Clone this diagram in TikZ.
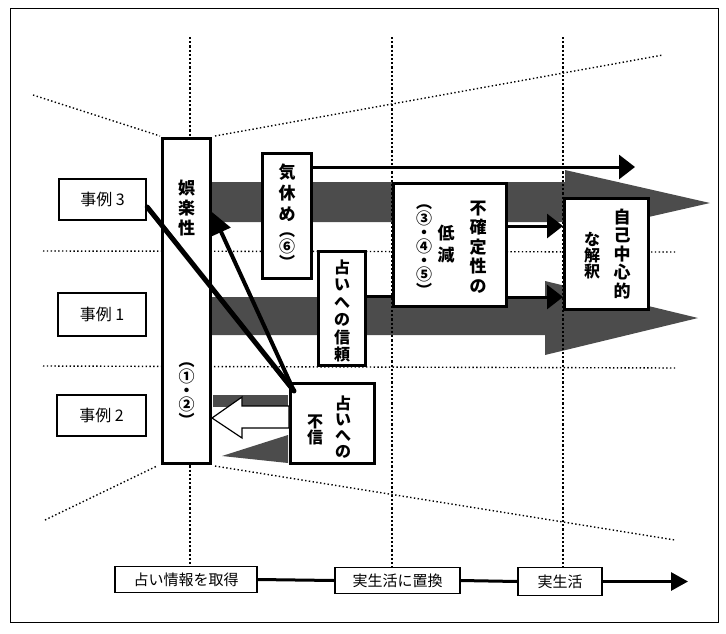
\documentclass[tikz,border=0pt]{standalone}
\usepackage{fontspec}
\newfontfamily\jp{Noto Sans CJK JP}
\usetikzlibrary{arrows.meta}
\begin{document}
\begin{tikzpicture}[x=1pt,y=-1pt,
  box/.style={draw=black,line width=3pt,fill=white,inner sep=0pt},
  casebox/.style={draw=black,line width=2.5pt,fill=white,inner sep=0pt,font=\jp\fontsize{16}{18}\selectfont},
  axbox/.style={draw=black,line width=1.3pt,fill=white,inner sep=0pt,font=\jp\fontsize{15}{17}\selectfont},
  vtxt/.style={align=center,inner sep=0pt},
  numtxt/.style={align=center,inner sep=0pt,font=\jp\bfseries\fontsize{16}{14}\selectfont},
  band/.style={fill=black!70},
  vdot/.style={line width=2.4pt,dash pattern=on 2.2pt off 2pt},
  hdot/.style={line width=1.4pt,dash pattern=on 1.4pt off 2.4pt},
  conn/.style={line width=3pt},
  bigtip/.style={-{Triangle[length=16pt,width=24pt]}}
]
\useasboundingbox (0,0) rectangle (726,633);
% frame
\draw[line width=1pt] (10,8) rectangle (718,622);

% gray bands
\fill[band] (212,182) -- (565,182) -- (565,170) -- (710,203) -- (565,236) -- (565,222) -- (212,222) -- cycle;
\fill[band] (212,297) -- (545,297) -- (545,281) -- (698,318) -- (545,355) -- (545,335) -- (212,335) -- cycle;
\fill[band] (213,395) rectangle (288,407);
\fill[band] (222,456) -- (288,435) -- (288,463) -- cycle;

% dotted guide lines
\draw[vdot] (190,37) -- (190,566);
\draw[vdot] (392,37) -- (392,567);
\draw[vdot] (563,37) -- (563,567);
\draw[hdot] (43,251) -- (676,252);
\draw[hdot] (43,366) -- (676,368);
\draw[hdot] (33,95) -- (160,136);
\draw[hdot] (215,136) -- (663,55);
\draw[hdot] (45,520) -- (157,466);
\draw[hdot] (215,466) -- (675,540);

% boxes
\node[box,minimum width=48pt,minimum height=325pt] (tall) at (186.5,301) {};
\node[box,minimum width=49pt,minimum height=125pt] (kyu) at (287,216) {};
\node[box,minimum width=47pt,minimum height=114pt] (shin) at (342,308.5) {};
\node[box,minimum width=113pt,minimum height=123pt] (fuk) at (450,245) {};
\node[box,minimum width=84pt,minimum height=111pt] (jiko) at (606.5,254) {};
\node[box,minimum width=84pt,minimum height=80pt] (fushin) at (332.5,423.5) {};
\node[casebox,minimum width=87pt,minimum height=41pt] (c3) at (102.5,199.5) {事例 3};
\node[casebox,minimum width=88pt,minimum height=43pt] (c1) at (102,314.5) {事例 1};
\node[casebox,minimum width=89pt,minimum height=41pt] (c2) at (101.5,415.5) {事例 2};

% vertical texts
\node[vtxt,font=\jp\bfseries\fontsize{17}{20}\selectfont] (tallA) at (186.5,208) {娯\\楽\\性};
\node[numtxt] (tallB) at (186.5,395) {︵\\①\\・\\②\\︶};
\node[vtxt,font=\jp\bfseries\fontsize{17}{21}\selectfont] (kyuA) at (287,193) {気\\休\\め};
\node[numtxt] (kyuB) at (287,251) {︵\\⑥\\︶};
\node[vtxt,font=\jp\bfseries\fontsize{16}{17.5}\selectfont] (shinA) at (342,311) {占\\い\\へ\\の\\信\\頼};
\node[vtxt,font=\jp\bfseries\fontsize{17}{19.5}\selectfont] (fukA) at (478,247) {不\\確\\定\\性\\の};
\node[vtxt,font=\jp\bfseries\fontsize{17}{22}\selectfont] (fukB) at (446,244) {低\\減};
\node[numtxt] (fukC) at (424,251) {︵\\③\\・\\④\\・\\⑤\\︶};
\node[vtxt,font=\jp\bfseries\fontsize{17}{18.5}\selectfont] (jikoA) at (622,254) {自\\己\\中\\心\\的};
\node[vtxt,font=\jp\bfseries\fontsize{16}{16}\selectfont] (jikoB) at (592,256) {な\\解\\釈};
\node[vtxt,font=\jp\bfseries\fontsize{16}{16}\selectfont] (fushinA) at (343,427) {占\\い\\へ\\の};
\node[vtxt,font=\jp\bfseries\fontsize{16}{16}\selectfont] (fushinB) at (315,430) {不\\信};

% connectors
\coordinate (kyuS) at (kyu.east |- 0,167);
\coordinate (longT) at (635,167);
\draw[conn,bigtip] (kyuS) -- (longT);
\coordinate (fukU) at (fuk.east |- 0,226);
\coordinate (fukL) at (fuk.east |- 0,297);
\draw[conn,bigtip] (fukU) -- (jiko.west |- fukU);
\draw[conn,bigtip] (fukL) -- (jiko.west |- fukL);
\coordinate (shinR) at (shin.east |- 0,296);
\draw[conn] (shinR) -- (fuk.west |- shinR);

\coordinate (j) at (294,391);
\coordinate (c3R) at (c3.east |- 0,207);
\coordinate (tallR) at (tall.east |- 0,212);
\draw[line width=5pt,line cap=round] (c3R) -- (j);
\draw[line width=4pt,line cap=round,-{Triangle[length=22pt,width=20pt]}] (j) -- (tallR);

% hollow arrow from 不信 to 娯楽性
\draw[line width=1.2pt,fill=white,line join=miter]
  (tall.east |- 0,418) -- (242,397) -- (242,406) -- (fushin.west |- 0,406)
  -- (fushin.west |- 0,428) -- (242,428) -- (242,438) -- cycle;

% bottom axis
\node[axbox,minimum width=142pt,minimum height=26pt] (a1) at (186,579.5) {占い情報を取得};
\node[axbox,minimum width=125pt,minimum height=26pt] (a2) at (397.5,580.5) {実生活に置換};
\node[axbox,minimum width=84pt,minimum height=28pt] (a3) at (560,581.5) {実生活};
\coordinate (axT) at (688,581.5);
\draw[conn] (a1.east) -- (a2.west);
\draw[conn] (a2.east) -- (a3.west);
\draw[conn,-{Triangle[length=17pt,width=18pt]}] (a3.east) -- (axT);
\end{tikzpicture}
\end{document}
